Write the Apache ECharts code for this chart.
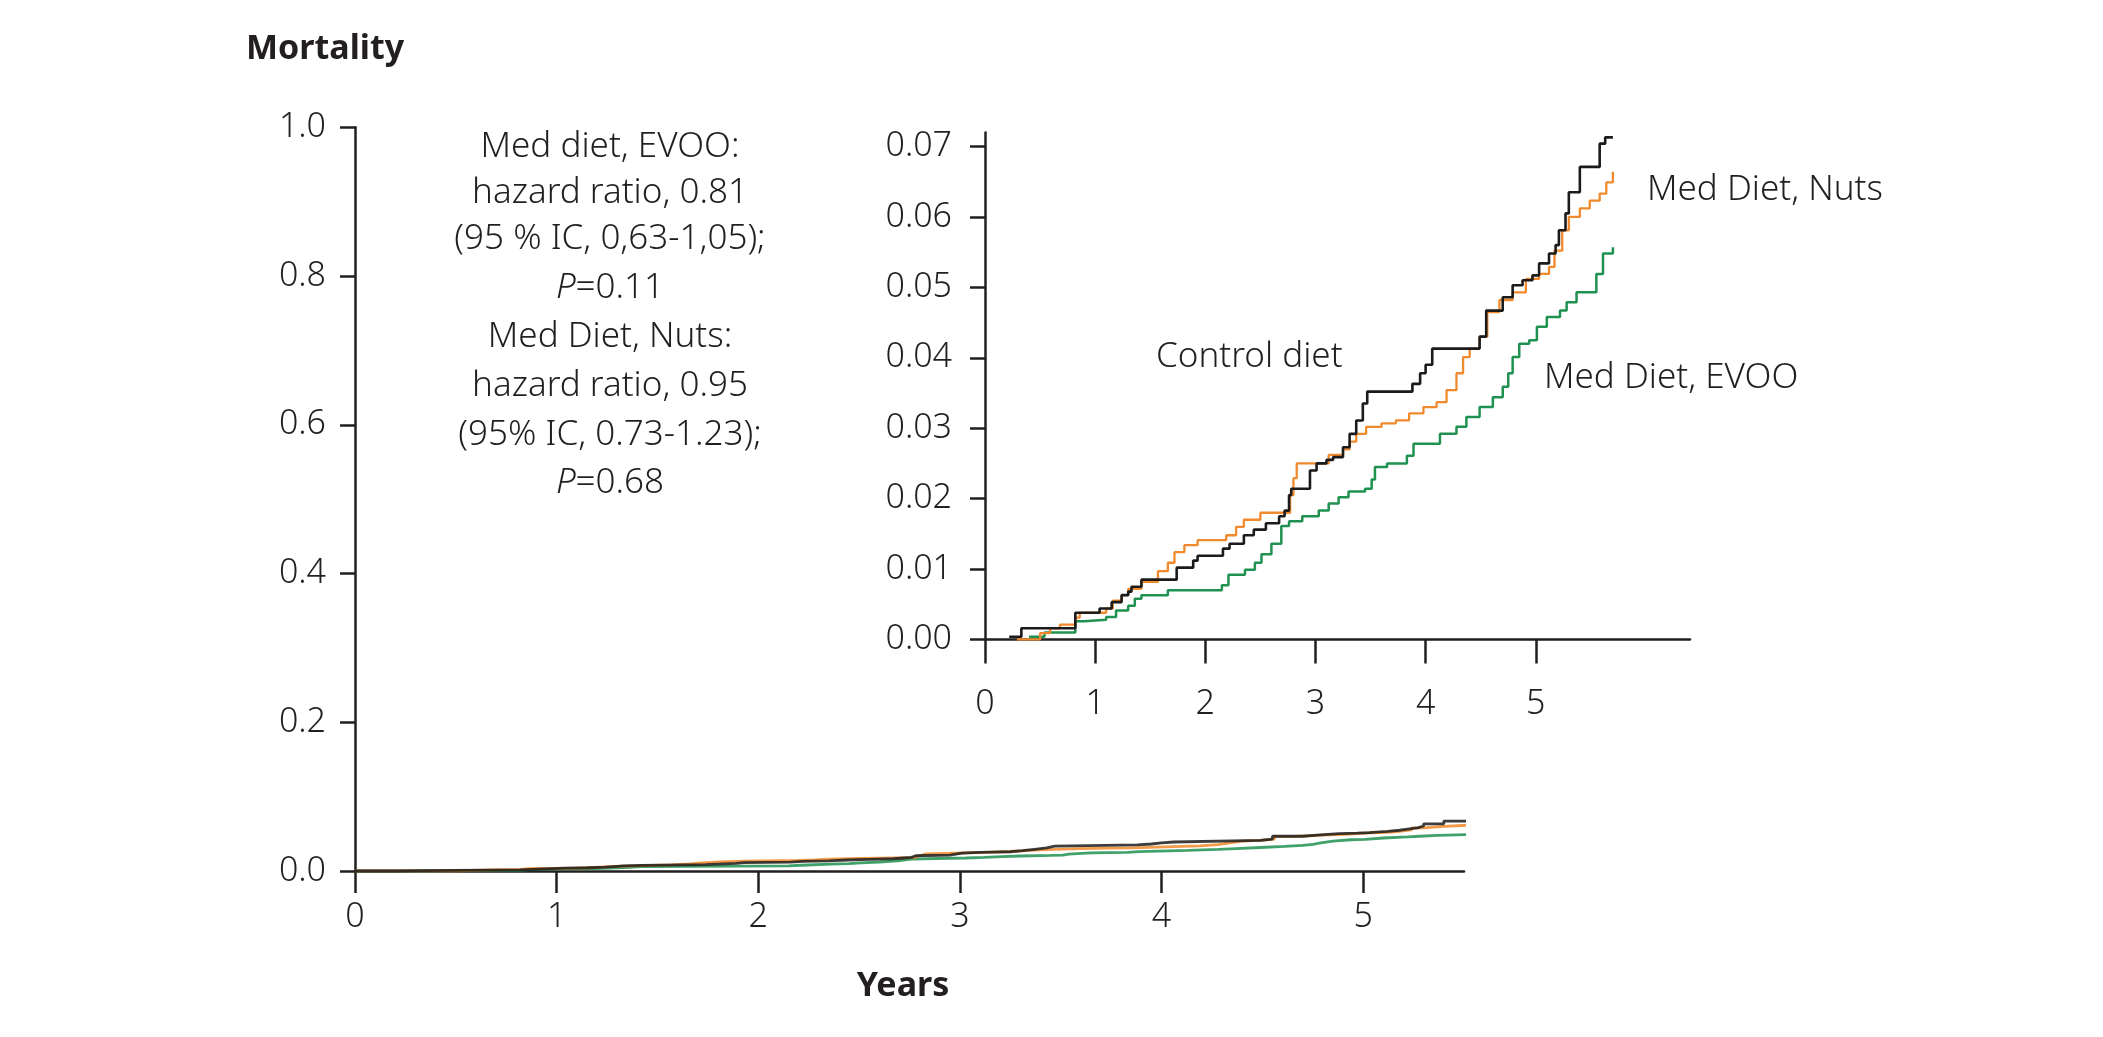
<!DOCTYPE html>
<html>
<head>
<meta charset="utf-8">
<script src="https://cdn.jsdelivr.net/npm/echarts@6/dist/echarts.min.js"></script>
<style>
html,body{margin:0;padding:0;background:#fff;}
#chart{width:2103px;height:1037px;}
</style>
</head>
<body>
<div id="chart"></div>
<script>
// ---- Data (years, cumulative mortality) ----
const controlX = [0.22,0.33,0.82,1.04,1.15,1.24,1.30,1.33,1.42,1.74,1.89,1.93,2.16,2.22,2.35,2.44,2.55,2.67,2.72,2.76,2.78,2.95,3.01,3.10,3.16,3.25,3.31,3.37,3.43,3.47,3.88,3.95,4.00,4.06,4.49,4.55,4.70,4.79,4.88,4.97,5.03,5.12,5.18,5.21,5.27,5.30,5.40,5.58,5.63,5.70];
const controlY = [0.0004,0.0016,0.0038,0.0044,0.0053,0.0063,0.0068,0.0075,0.0085,0.0102,0.0112,0.0119,0.0129,0.0136,0.0148,0.0156,0.0165,0.0175,0.0183,0.0205,0.0214,0.0240,0.0250,0.0255,0.0259,0.0273,0.0292,0.0311,0.0335,0.0352,0.0363,0.0378,0.0390,0.0413,0.0430,0.0467,0.0486,0.0503,0.0510,0.0517,0.0534,0.0548,0.0560,0.0581,0.0605,0.0635,0.0671,0.0704,0.0713,0.0713];

const nutsX = [0.29,0.50,0.59,0.68,0.82,0.86,1.10,1.16,1.24,1.30,1.42,1.57,1.66,1.72,1.81,1.93,2.19,2.28,2.35,2.50,2.77,2.80,2.83,3.12,3.25,3.31,3.37,3.46,3.60,3.73,3.85,3.98,4.10,4.19,4.28,4.34,4.40,4.49,4.56,4.67,4.79,4.91,5.03,5.12,5.17,5.24,5.30,5.40,5.49,5.58,5.64,5.70];
const nutsY = [0.0000,0.0009,0.0016,0.0021,0.0031,0.0038,0.0044,0.0055,0.0063,0.0072,0.0082,0.0097,0.0109,0.0124,0.0134,0.0141,0.0148,0.0160,0.0170,0.0180,0.0205,0.0229,0.0250,0.0262,0.0270,0.0281,0.0292,0.0302,0.0307,0.0311,0.0321,0.0330,0.0337,0.0354,0.0378,0.0401,0.0413,0.0430,0.0465,0.0482,0.0493,0.0512,0.0519,0.0529,0.0552,0.0581,0.0600,0.0612,0.0623,0.0633,0.0649,0.0664];

const evooX = [0.40,0.54,0.82,0.90,1.10,1.19,1.30,1.36,1.42,1.66,2.15,2.21,2.36,2.45,2.51,2.60,2.69,2.76,2.88,3.03,3.12,3.21,3.30,3.45,3.51,3.54,3.65,3.83,3.89,4.13,4.28,4.37,4.49,4.61,4.70,4.75,4.79,4.85,4.94,5.01,5.10,5.22,5.28,5.37,5.55,5.61,5.70];
const evooY = [0.0004,0.0010,0.0026,0.0028,0.0032,0.0041,0.0048,0.0058,0.0063,0.0070,0.0077,0.0092,0.0099,0.0109,0.0121,0.0136,0.0161,0.0168,0.0175,0.0183,0.0193,0.0202,0.0210,0.0214,0.0227,0.0245,0.0250,0.0261,0.0278,0.0292,0.0302,0.0316,0.0330,0.0344,0.0359,0.0378,0.0401,0.0420,0.0425,0.0444,0.0458,0.0467,0.0479,0.0493,0.0519,0.0548,0.0557];

const mainYTicks = [0, 0.2, 0.4, 0.6, 0.8, 1.0];
const mainXTicks = [0, 1, 2, 3, 4, 5];
const insetYTicks = [0, 0.01, 0.02, 0.03, 0.04, 0.05, 0.06, 0.07];
const insetXTicks = [0, 1, 2, 3, 4, 5];

const annotationLines = [
  'Med diet, EVOO:',
  'hazard ratio, 0.81',
  '(95 % IC, 0,63-1,05);',
  '{i|P}=0.11',
  'Med Diet, Nuts:',
  'hazard ratio, 0.95',
  '(95% IC, 0.73-1.23);',
  '{i|P}=0.68'
];

// ---- Build chart ----
function pairs(xs, ys) { return xs.map((x, i) => [x, ys[i]]); }
const FONT = "'Noto Sans', 'Open Sans', sans-serif";
const LIGHT = 300;
const TXT = '#231f20';
const AX = '#231f20';
const C_BLACK = '#1b1b1b', C_ORANGE = '#F08A2C', C_GREEN = '#1F9150';

const chart = echarts.init(document.getElementById('chart'), null, {renderer: 'canvas'});

function axisCommon(extra) {
  return Object.assign({
    axisLine: {show: true, onZero: false, lineStyle: {color: AX, width: 2.5}},
    splitLine: {show: false},
  }, extra);
}

const seriesDefs = [
  {name: 'Control diet', xs: controlX, ys: controlY, color: C_BLACK, w: 2.6},
  {name: 'Med Diet, Nuts', xs: nutsX, ys: nutsY, color: C_ORANGE, w: 2.3},
  {name: 'Med Diet, EVOO', xs: evooX, ys: evooY, color: C_GREEN, w: 2.5}
];

const series = [];
// main chart (prepend origin)
[seriesDefs[2], seriesDefs[1], seriesDefs[0]].forEach(d => {
  series.push({
    type: 'line', xAxisIndex: 0, yAxisIndex: 0, step: 'end', symbol: 'none',
    data: [[0, 0]].concat(pairs(d.xs, d.ys)),
    lineStyle: {color: d.color, width: 2.8, opacity: 0.85}, silent: true
  });
});
// inset
[seriesDefs[2], seriesDefs[1], seriesDefs[0]].forEach(d => {
  series.push({
    type: 'line', xAxisIndex: 1, yAxisIndex: 1, step: 'end', symbol: 'none',
    data: pairs(d.xs, d.ys),
    lineStyle: {color: d.color, width: d.w}, silent: true
  });
});

const graphics = [
  {type: 'text', x: 246, y: 49, style: {text: 'Mortality', fontSize: 34, fontWeight: 'bold', fontFamily: FONT, fill: TXT, align: 'left', verticalAlign: 'middle'}},
  {type: 'text', x: 903, y: 986, style: {text: 'Years', fontSize: 34, fontWeight: 'bold', fontFamily: FONT, fill: TXT, align: 'center', verticalAlign: 'middle'}},
  {type: 'text', x: 1156, y: 357, style: {text: 'Control diet', fontSize: 35, fontWeight: LIGHT, fontFamily: FONT, fill: TXT, align: 'left', verticalAlign: 'middle'}},
  {type: 'text', x: 1647, y: 190, style: {text: 'Med Diet, Nuts', fontSize: 35, fontWeight: LIGHT, fontFamily: FONT, fill: TXT, align: 'left', verticalAlign: 'middle'}},
  {type: 'text', x: 1544, y: 378, style: {text: 'Med Diet, EVOO', fontSize: 35, fontWeight: LIGHT, fontFamily: FONT, fill: TXT, align: 'left', verticalAlign: 'middle'}}
];
const annY = [147, 193, 239, 288, 337, 386, 435, 483];
annotationLines.forEach((t, i) => {
  graphics.push({type: 'text', x: 610, y: annY[i], style: {
    text: t, fontSize: 35, fontWeight: LIGHT, fontFamily: FONT, fill: TXT, align: 'center', verticalAlign: 'middle',
    rich: {i: {fontStyle: 'italic', fontWeight: LIGHT, fontSize: 35, fontFamily: FONT, fill: TXT}}
  }});
});

const lbl = {fontSize: 34, fontWeight: LIGHT, fontFamily: FONT, color: TXT};

chart.setOption({
  animation: false,
  backgroundColor: '#ffffff',
  grid: [
    {left: 355, top: 127.3, width: 1109, height: 743.7},
    {left: 985, top: 132.4, width: 705, height: 507.1}
  ],
  xAxis: [
    axisCommon({type: 'value', gridIndex: 0, min: 0, max: 5.5,
      axisTick: {show: true, length: 22, lineStyle: {color: AX, width: 2.5}, customValues: mainXTicks},
      axisLabel: Object.assign({margin: 29, customValues: mainXTicks}, lbl)}),
    axisCommon({type: 'value', gridIndex: 1, min: 0, max: 6.4,
      axisTick: {show: true, length: 24, lineStyle: {color: AX, width: 2.5}, customValues: insetXTicks},
      axisLabel: Object.assign({margin: 48, customValues: insetXTicks}, lbl)})
  ],
  yAxis: [
    axisCommon({type: 'value', gridIndex: 0, min: 0, max: 1,
      axisTick: {show: true, length: 15, lineStyle: {color: AX, width: 2.5}, customValues: mainYTicks},
      axisLabel: Object.assign({margin: 29, customValues: mainYTicks, formatter: v => v.toFixed(1)}, lbl)}),
    axisCommon({type: 'value', gridIndex: 1, min: 0, max: 0.072,
      axisTick: {show: true, length: 15, lineStyle: {color: AX, width: 2.5}, customValues: insetYTicks},
      axisLabel: Object.assign({margin: 33, customValues: insetYTicks, formatter: v => v.toFixed(2)}, lbl)})
  ],
  series: series,
  graphic: graphics
});
</script>
</body>
</html>
